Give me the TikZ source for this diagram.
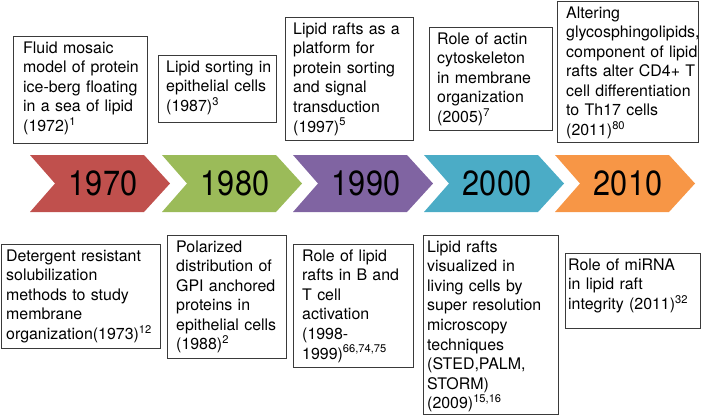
\documentclass[tikz,border=0pt]{standalone}
\usepackage{fontspec}
\setmainfont{TeX Gyre Heros}
\definecolor{cRed}{HTML}{C0504D}
\definecolor{cGreen}{HTML}{9BBB59}
\definecolor{cPurple}{HTML}{8064A2}
\definecolor{cBlue}{HTML}{4BACC6}
\definecolor{cOrange}{HTML}{F79646}
\definecolor{cBorder}{HTML}{3A3A3A}
\newcommand{\sups}[1]{\textsuperscript{#1}}
\tikzset{
  evbox/.style={draw=cBorder, line width=0.8bp, inner sep=0pt, anchor=north west},
  evtext/.style={anchor=north west, inner sep=0pt, text width=150bp, align=left,
    font=\fontsize{16}{19.6}\selectfont},
  yeartext/.style={font=\fontsize{35}{35}\selectfont, inner sep=0pt},
}
\newcommand{\evboxat}[7]{% name, x1, y1, x2, y2, textx, text
  \node[evbox, minimum width=#4-#2, minimum height=#5-#3] (#1) at (#2,#3) {};
  \node[evtext] (#1t) at (#6,#3+5.5) {#7};
}
\newcommand{\chev}[4]{% name, left x, color, label
  \fill[#3] (#2,155) -- (#2+114,155) -- (#2+140,183.5) -- (#2+114,212) -- (#2,212) -- (#2+25,183.5) -- cycle;
  \node[yeartext] (#1) at (#2+73,183.5) {\scalebox{0.88}[1]{#4}};
}
\begin{document}
\begin{tikzpicture}[x=1bp,y=-1bp]
\useasboundingbox (0,0) rectangle (709,416);
% chevrons
\chev{y1970}{30}{cRed}{1970}
\chev{y1980}{162}{cGreen}{1980}
\chev{y1990}{293}{cPurple}{1990}
\chev{y2000}{424}{cBlue}{2000}
\chev{y2010}{555}{cOrange}{2010}
% top boxes
\evboxat{t1}{13}{36}{148}{143}{23}{Fluid mosaic\\model of protein\\ice-berg floating\\in a sea of lipid\\(1972)\sups{1}}
\evboxat{t2}{158}{55}{276}{122}{166}{Lipid sorting in\\epithelial cells\\(1987)\sups{3}}
\evboxat{t3}{285}{17}{413}{140}{293}{Lipid rafts as a\\platform for\\protein sorting\\and signal\\transduction\\(1997)\sups{5}}
\evboxat{t4}{429}{27}{552}{130}{437}{Role of actin\\cytoskeleton\\in membrane\\organization\\(2005)\sups{7}}
\evboxat{t5}{557}{1}{699}{143}{566}{Altering\\glycosphingolipids,\\component of lipid\\rafts alter CD4+ T\\cell differentiation\\to Th17 cells\\(2011)\sups{80}}
% bottom boxes
\evboxat{b1}{1}{244}{161}{348}{6}{Detergent resistant\\solubilization\\methods to study\\membrane\\organization(1973)\sups{12}}
\evboxat{b2}{167}{235}{286}{358}{176}{Polarized\\distribution of\\GPI anchored\\proteins in\\epithelial cells\\(1988)\sups{2}}
\evboxat{b3}{293}{244}{413}{367}{302}{Role of lipid\\rafts in B and\\T cell\\activation\\(1998-\\1999)\sups{66,74,75}}
\evboxat{b4}{423}{235}{558}{415}{427}{Lipid rafts\\visualized in\\living cells by\\super resolution\\microscopy\\techniques\\(STED,PALM,\\STORM)\\(2009)\sups{15,16}}
\evboxat{b5}{565}{253}{700}{328}{568}{Role of miRNA\\in lipid raft\\integrity (2011)\sups{32}}
\end{tikzpicture}
\end{document}
